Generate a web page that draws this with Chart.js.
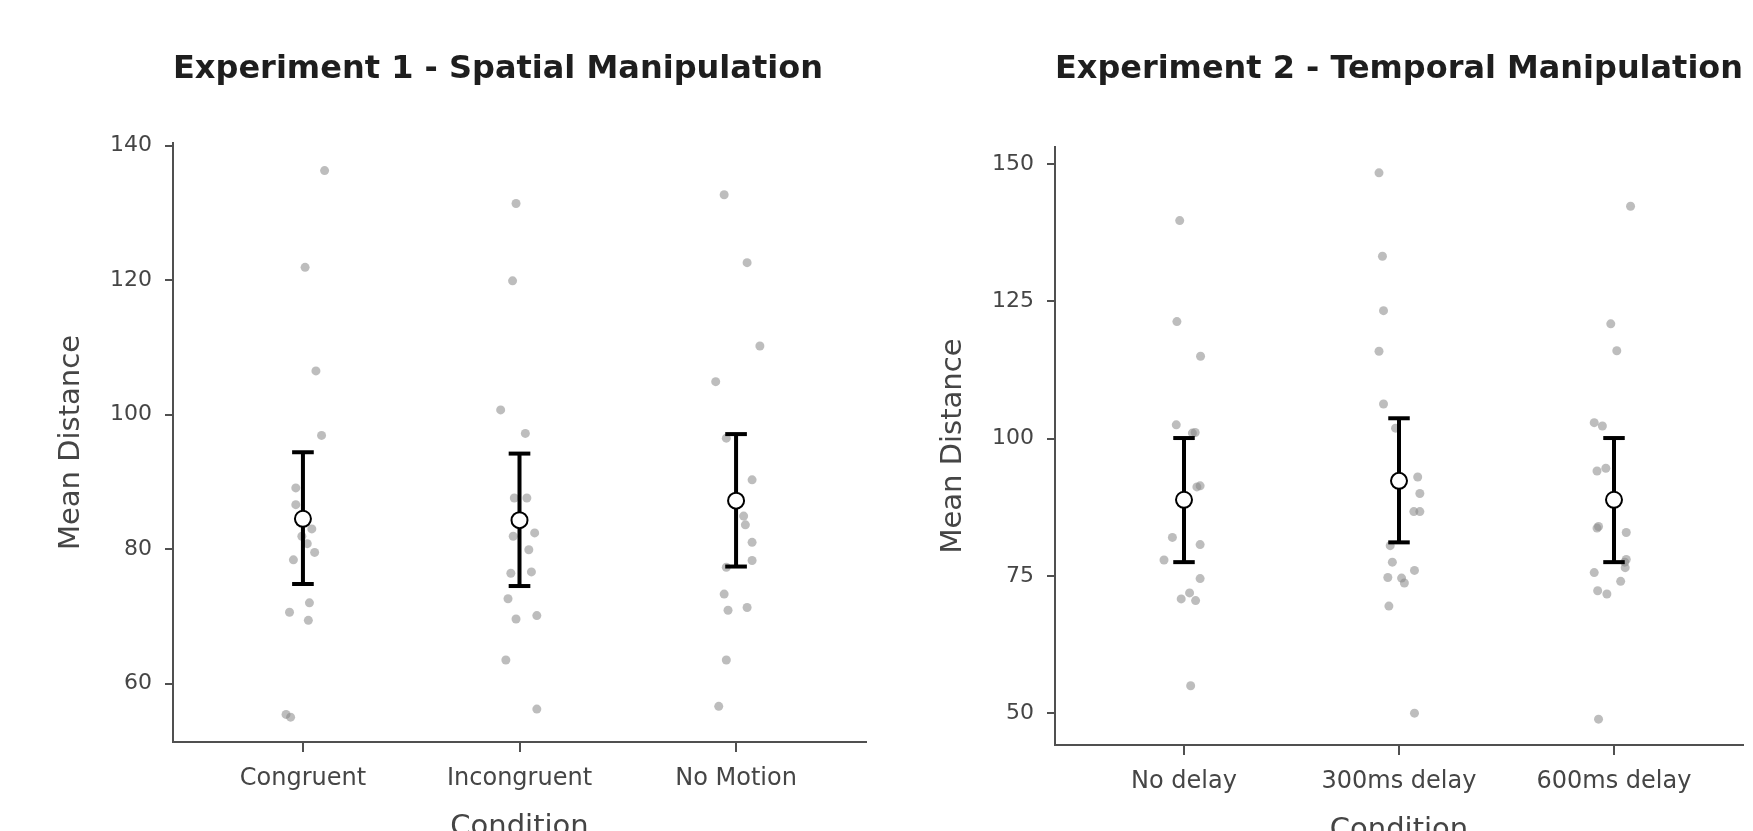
<!DOCTYPE html>
<html>
<head>
  <title>Mean Distance by Condition</title>
  <script src="https://cdn.jsdelivr.net/npm/chart.js"></script>
  <style>
    body { margin: 0; background: #fff; overflow: hidden; }
    #wrap { position: relative; width: 1753px; height: 831px; overflow: hidden; }
    #exp1-chart { position: absolute; left: 0; top: 0; }
    #exp2-chart { position: absolute; left: 880px; top: 0; }
  </style>
</head>
<body>
  <div id="wrap">
    <canvas id="exp1-chart" width="880" height="870"></canvas>
    <canvas id="exp2-chart" width="873" height="870"></canvas>
  </div>
  <script>
    // Experiment 1 - spatial manipulation
    const exp1Categories = ['Congruent', 'Incongruent', 'No Motion'];
    const exp1Values = [
      [136.3, 121.9, 106.5, 96.9, 89.1, 86.6, 83.0, 81.9, 80.8, 79.5, 78.4, 72.0, 70.6, 69.4, 55.4, 55.0],
      [131.4, 119.9, 100.7, 97.2, 87.6, 87.6, 82.4, 81.9, 79.9, 76.4, 76.6, 72.6, 70.1, 69.6, 63.5, 56.2],
      [132.7, 122.6, 110.2, 104.9, 96.5, 90.3, 84.9, 83.6, 81.0, 78.3, 77.3, 73.3, 71.3, 70.9, 63.5, 56.6]
    ];
    // horizontal jitter of each participant point (category units)
    const exp1Jitter = [
      [0.10, 0.01, 0.06, 0.086, -0.033, -0.033, 0.041, -0.005, 0.02, 0.054, -0.044, 0.03, -0.062, 0.025, -0.078, -0.057],
      [-0.016, -0.032, -0.087, 0.027, -0.024, 0.034, 0.07, -0.029, 0.043, -0.04, 0.055, -0.053, 0.08, -0.016, -0.063, 0.08],
      [-0.055, 0.051, 0.11, -0.094, -0.045, 0.074, 0.035, 0.043, 0.074, 0.074, -0.045, -0.055, 0.051, -0.037, -0.045, -0.08]
    ];
    const exp1Means = [84.5, 84.3, 87.2];
    const exp1Lower = [74.8, 74.5, 77.4];
    const exp1Upper = [94.4, 94.2, 97.1];
    const exp1Ticks = [60, 80, 100, 120, 140];

    // Experiment 2 - temporal manipulation
    const exp2Categories = ['No delay', '300ms delay', '600ms delay'];
    const exp2Values = [
      [139.7, 121.3, 115.0, 102.5, 101.1, 101.0, 91.4, 91.2, 82.0, 80.7, 77.9, 74.5, 71.9, 70.8, 70.5, 55.0],
      [148.4, 133.2, 123.3, 115.9, 106.3, 101.9, 93.0, 90.0, 86.7, 86.7, 80.5, 77.5, 76.0, 74.7, 74.6, 73.7, 69.5, 50.0],
      [142.3, 120.9, 116.0, 102.9, 102.3, 94.6, 94.1, 84.0, 83.7, 82.9, 78.0, 77.5, 76.5, 75.6, 74.0, 72.3, 71.7, 48.9]
    ];
    const exp2Jitter = [
      [-0.02, -0.033, 0.077, -0.036, 0.052, 0.039, 0.075, 0.06, -0.054, 0.075, -0.093, 0.075, 0.026, -0.013, 0.054, 0.031],
      [-0.093, -0.077, -0.072, -0.093, -0.072, -0.016, 0.087, 0.097, 0.069, 0.097, -0.041, -0.031, 0.072, -0.052, 0.012, 0.025, -0.047, 0.072],
      [0.077, -0.015, 0.013, -0.092, -0.054, -0.038, -0.079, -0.072, -0.079, 0.057, 0.057, 0.05, 0.052, -0.092, 0.031, -0.076, -0.033, -0.072]
    ];
    const exp2Means = [88.85, 92.3, 88.85];
    const exp2Lower = [77.5, 81.1, 77.5];
    const exp2Upper = [100.1, 103.7, 100.1];
    const exp2Ticks = [50, 75, 100, 125, 150];

    Chart.defaults.font.family = "'DejaVu Sans', sans-serif";
    const textGrey = '#454545';
    const axisGrey = '#505050';
    const capHalf = 0.05;

    function errorSegment(points) {
      return {
        data: points, showLine: true, borderColor: '#000', borderWidth: 4,
        pointRadius: 0, order: 1
      };
    }

    function buildChart(canvasId, d, s) {
      const points = d.values.flatMap((vals, i) => vals.map((v, j) => ({x: i + d.jitter[i][j], y: v})));
      const datasets = [{
        data: d.means.map((m, i) => ({x: i, y: m})),
        pointRadius: 8, pointBackgroundColor: '#fff', pointBorderColor: '#000', pointBorderWidth: 2,
        order: 0
      }];
      d.means.forEach((m, i) => {
        datasets.push(errorSegment([{x: i, y: d.lower[i]}, {x: i, y: d.upper[i]}]));
        datasets.push(errorSegment([{x: i - capHalf, y: d.upper[i]}, {x: i + capHalf, y: d.upper[i]}]));
        datasets.push(errorSegment([{x: i - capHalf, y: d.lower[i]}, {x: i + capHalf, y: d.lower[i]}]));
      });
      datasets.push({
        data: points, pointRadius: 4.5, pointBorderWidth: 0,
        pointBackgroundColor: 'rgba(135,135,135,0.55)', order: 2
      });

      return new Chart(document.getElementById(canvasId), {
        type: 'scatter',
        data: { datasets: datasets },
        options: {
          responsive: false,
          animation: false,
          layout: { padding: { left: 0, right: s.padRight, top: 0, bottom: 0 } },
          plugins: {
            legend: { display: false },
            tooltip: { enabled: false },
            title: {
              display: true, text: d.title, align: 'start', fullSize: false,
              color: '#1e1e1e', font: { size: 32, weight: 'bold' },
              padding: { top: 50.5, bottom: s.titlePadBottom }
            }
          },
          scales: {
            x: {
              type: 'linear', min: -0.6, max: 2.6,
              afterFit: scale => { scale.height = s.axisHeight; },
              afterBuildTicks: scale => { scale.ticks = d.categories.map((c, i) => ({value: i})); },
              ticks: {
                callback: (v, idx) => d.categories[idx],
                font: { size: 24 }, color: textGrey, padding: 12.6, maxRotation: 0, autoSkip: false
              },
              grid: { drawOnChartArea: false, tickLength: 10, color: axisGrey, lineWidth: 2 },
              border: { color: axisGrey, width: 2 },
              title: {
                display: true, text: 'Condition', color: textGrey, font: { size: 29 },
                padding: { top: 0, bottom: s.xTitlePad }
              }
            },
            y: {
              min: d.yMin, max: d.yMax,
              afterFit: scale => { scale.width = s.axisWidth; },
              afterBuildTicks: scale => { scale.ticks = d.ticks.map(v => ({value: v})); },
              ticks: { font: { size: 22 }, color: textGrey, padding: 13 },
              grid: { drawOnChartArea: false, tickLength: 8, color: axisGrey, lineWidth: 2 },
              border: { color: axisGrey, width: 2 },
              title: {
                display: true, text: 'Mean Distance', color: textGrey, font: { size: 29 },
                padding: { top: s.yTitlePad, bottom: 0 }
              }
            }
          }
        }
      });
    }

    buildChart('exp1-chart', {
      title: 'Experiment 1 - Spatial Manipulation', categories: exp1Categories,
      values: exp1Values, jitter: exp1Jitter, means: exp1Means, lower: exp1Lower, upper: exp1Upper,
      ticks: exp1Ticks, yMin: 51.3, yMax: 140.4
    }, { padRight: 14, axisWidth: 173, axisHeight: 128, titlePadBottom: 54.1, xTitlePad: 25.6, yTitlePad: 53.6 });

    buildChart('exp2-chart', {
      title: 'Experiment 2 - Temporal Manipulation', categories: exp2Categories,
      values: exp2Values, jitter: exp2Jitter, means: exp2Means, lower: exp2Lower, upper: exp2Upper,
      ticks: exp2Ticks, yMin: 44.2, yMax: 153.1
    }, { padRight: 4, axisWidth: 175, axisHeight: 125, titlePadBottom: 58.1, xTitlePad: 22.6, yTitlePad: 55.6 });
  </script>
</body>
</html>
